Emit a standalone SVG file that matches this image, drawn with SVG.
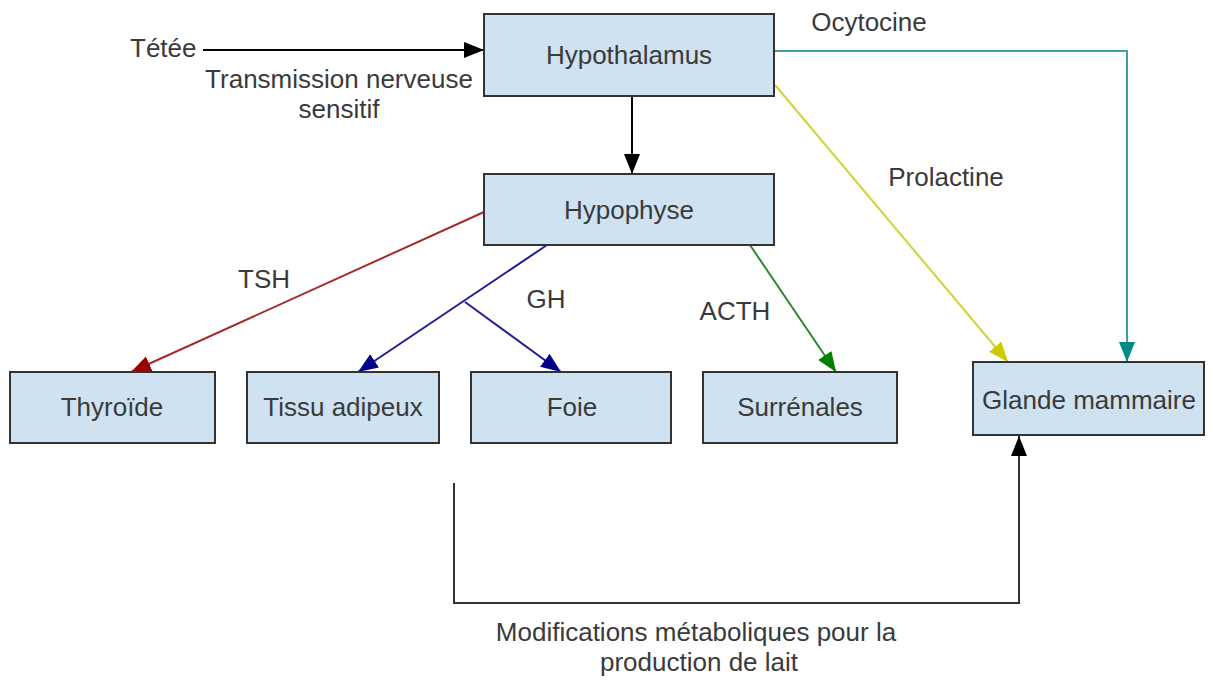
<svg xmlns="http://www.w3.org/2000/svg" width="1213" height="686" viewBox="0 0 1213 686">
<style>
.box{fill:#cfe2f2;stroke:#333;stroke-width:2}
text{font-family:"Liberation Sans",Arial,sans-serif;font-size:26px;fill:#3a3a3a}
.c{text-anchor:middle}
.ln{fill:none;stroke-width:2}
</style>
<defs>
<marker id="mk" markerUnits="userSpaceOnUse" markerWidth="22" markerHeight="18" refX="20" refY="8" orient="auto"><path d="M0,0 L20,8 L0,16 z" fill="#000"/></marker>
<marker id="mr" markerUnits="userSpaceOnUse" markerWidth="22" markerHeight="18" refX="20" refY="8" orient="auto"><path d="M0,0 L20,8 L0,16 z" fill="#990000"/></marker>
<marker id="mb" markerUnits="userSpaceOnUse" markerWidth="22" markerHeight="18" refX="20" refY="8" orient="auto"><path d="M0,0 L20,8 L0,16 z" fill="#00008c"/></marker>
<marker id="mg" markerUnits="userSpaceOnUse" markerWidth="22" markerHeight="18" refX="20" refY="8" orient="auto"><path d="M0,0 L20,8 L0,16 z" fill="#008000"/></marker>
<marker id="my" markerUnits="userSpaceOnUse" markerWidth="22" markerHeight="18" refX="20" refY="8" orient="auto"><path d="M0,0 L20,8 L0,16 z" fill="#cccc00"/></marker>
<marker id="mt" markerUnits="userSpaceOnUse" markerWidth="22" markerHeight="18" refX="20" refY="8" orient="auto"><path d="M0,0 L20,8 L0,16 z" fill="#008b8b"/></marker>
</defs>
<rect width="1213" height="686" fill="#fff"/>
<g id="connectors">
<line class="ln" x1="203" y1="50" x2="484" y2="50" stroke="#000" marker-end="url(#mk)"/>
<line class="ln" x1="632" y1="96" x2="632" y2="174" stroke="#000" marker-end="url(#mk)"/>
<polyline class="ln" points="775,51 1127,51 1127,362" stroke="#3f9f9f" marker-end="url(#mt)"/>
<line class="ln" x1="775" y1="85" x2="1008" y2="362" stroke="#d2d23a" marker-end="url(#my)"/>
<line class="ln" x1="484" y1="212" x2="131" y2="372" stroke="#a52a2a" marker-end="url(#mr)"/>
<line class="ln" x1="547" y1="245" x2="358" y2="372" stroke="#1f1f8f" marker-end="url(#mb)"/>
<line class="ln" x1="465" y1="302" x2="561" y2="372" stroke="#1f1f8f" marker-end="url(#mb)"/>
<line class="ln" x1="750" y1="245" x2="836" y2="372" stroke="#2a8a2a" marker-end="url(#mg)"/>
<polyline class="ln" points="454,483 454,603 1019,603 1019,436" stroke="#333" marker-end="url(#mk)"/>
</g>
<g id="labels">
<text x="130" y="57">Tétée</text>
<text x="339" y="88" class="c">Transmission nerveuse</text>
<text x="339" y="118" class="c">sensitif</text>
<text x="869" y="31" class="c">Ocytocine</text>
<text x="946" y="186" class="c">Prolactine</text>
<text x="264" y="288" class="c">TSH</text>
<text x="546" y="308" class="c">GH</text>
<text x="735" y="320" class="c">ACTH</text>
<text x="696" y="641" class="c">Modifications métaboliques pour la</text>
<text x="699" y="671" class="c">production de lait</text>
</g>
<g id="hypothalamus"><rect class="box" x="484" y="14" width="290" height="82"/><text x="629" y="64" class="c">Hypothalamus</text></g>
<g id="hypophyse"><rect class="box" x="484" y="174" width="290" height="71"/><text x="629" y="219" class="c">Hypophyse</text></g>
<g id="thyroide"><rect class="box" x="10" y="372" width="205" height="71"/><text x="112" y="416" class="c">Thyroïde</text></g>
<g id="tissu-adipeux"><rect class="box" x="247" y="372" width="192" height="71"/><text x="343" y="416" class="c">Tissu adipeux</text></g>
<g id="foie"><rect class="box" x="471" y="372" width="200" height="71"/><text x="572" y="416" class="c">Foie</text></g>
<g id="surrenales"><rect class="box" x="703" y="372" width="194" height="71"/><text x="800" y="416" class="c">Surrénales</text></g>
<g id="glande-mammaire"><rect class="box" x="973" y="362" width="231" height="73"/><text x="1089" y="409" class="c">Glande mammaire</text></g>
</svg>
